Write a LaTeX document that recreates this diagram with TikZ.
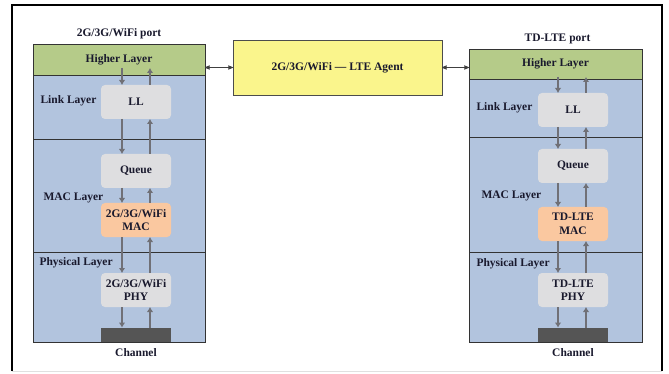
\documentclass[tikz,border=0pt]{standalone}
\usepackage{fontspec}
\setmainfont{Liberation Serif}
\usetikzlibrary{arrows,arrows.meta,positioning}
\newcommand{\labfont}{\fontsize{11.5}{13.5}\selectfont}
\definecolor{hlgreen}{RGB}{181,203,137}
\definecolor{laybl}{RGB}{178,196,222}
\definecolor{boxgr}{RGB}{222,222,224}
\definecolor{macor}{RGB}{250,200,160}
\definecolor{agyel}{RGB}{250,245,140}
\definecolor{chan}{RGB}{85,85,85}
\definecolor{arrgr}{RGB}{112,112,118}
\definecolor{txt}{RGB}{25,25,45}
\tikzstyle{band}=[rectangle,draw=black!80,line width=0.8pt,fill=laybl,
minimum width=172pt,inner sep=0pt,outer sep=0pt]
\tikzstyle{higher}=[band,fill=hlgreen]
\tikzstyle{unit}=[rectangle,rounded corners=4pt,fill=boxgr,minimum width=70pt,
minimum height=34pt,align=center,inner sep=1pt,outer sep=0pt]
\tikzstyle{mac}=[unit,fill=macor]
\tikzstyle{chbar}=[rectangle,fill=chan,minimum width=70pt,minimum height=14pt,inner sep=0pt]
\tikzstyle{agent}=[rectangle,draw=black!70,line width=0.8pt,fill=agyel,
minimum width=209pt,minimum height=55pt,outer sep=0pt]
\tikzstyle{flow}=[draw=arrgr,line width=2.6pt,-{Latex[length=5pt,width=6.5pt]}]
\tikzstyle{link}=[draw=black!75,line width=0.8pt,<->,>=stealth']

\begin{document}
\begin{tikzpicture}[x=1pt,y=-1pt,font=\bfseries\labfont,text=txt]
            \useasboundingbox (0,0) rectangle (669,374);
            \draw[line width=2pt] (12,371) -- (12,5) -- (662,5) -- (662,371);
            \draw[black!12] (12,371) -- (662,371);

            % 2G/3G/WiFi PART

            \node[higher,minimum height=31pt] (hl1) at (119,59.5) {Higher Layer};
            \node[band,below=0pt of hl1,minimum height=64pt] (ly1) {};
            \node[band,below=0pt of ly1,minimum height=113pt] (mc1) {};
            \node[band,below=0pt of mc1,minimum height=90pt] (ph1) {};
            \node[above=2pt of hl1] (pt1) {2G/3G/WiFi port};

            \node[anchor=west] (lk1) at (37,101) {Link Layer};
            \node[anchor=west] (ml1) at (40,198) {MAC Layer};
            \node[anchor=west] (pl1) at (36,263) {Physical Layer};

            \node[unit] (ll1) at (136,102) {LL};
            \node[unit,below=35pt of ll1] (q1) {Queue};
            \node[mac,below=15pt of q1] (m1) {2G/3G/WiFi\\MAC};
            \node[unit,below=36pt of m1] (p1) {2G/3G/WiFi\\PHY};
            \node[chbar,anchor=south] (c1) at (ph1.south -| ll1) {};
            \node[below=3pt of c1] (ct1) {Channel};

            \draw[flow] ([xshift=-14pt,yshift=17pt]ll1.north) -- ([xshift=-14pt]ll1.north);
            \draw[flow] ([xshift=14pt]ll1.north) -- ([xshift=14pt,yshift=17pt]ll1.north);
            \draw[flow] ([xshift=-14pt]ll1.south) -- ([xshift=-14pt]q1.north);
            \draw[flow] ([xshift=14pt]q1.north) -- ([xshift=14pt]ll1.south);
            \draw[flow] ([xshift=-14pt]q1.south) -- ([xshift=-14pt]m1.north);
            \draw[flow] ([xshift=14pt]m1.north) -- ([xshift=14pt]q1.south);
            \draw[flow] ([xshift=-14pt]m1.south) -- ([xshift=-14pt]p1.north);
            \draw[flow] ([xshift=14pt]p1.north) -- ([xshift=14pt]m1.south);
            \draw[flow] ([xshift=-14pt]p1.south) -- ([xshift=-14pt]c1.north);
            \draw[flow] ([xshift=14pt]c1.north) -- ([xshift=14pt]p1.south);

            % TD-LTE PART

            \node[higher,minimum height=30pt,minimum width=173pt] (hl2) at (555.5,64) {Higher Layer};
            \node[band,below=0pt of hl2,minimum height=58pt,minimum width=173pt] (ly2) {};
            \node[band,below=0pt of ly2,minimum height=115pt,minimum width=173pt] (mc2) {};
            \node[band,below=0pt of mc2,minimum height=90pt,minimum width=173pt] (ph2) {};
            \node[above=2pt of hl2,xshift=2pt] (pt2) {TD-LTE port};

            \node[anchor=west] (lk2) at (473,108) {Link Layer};
            \node[anchor=west] (ml2) at (478,196) {MAC Layer};
            \node[anchor=west] (pl2) at (473,264) {Physical Layer};

            \node[unit] (ll2) at (573,110) {LL};
            \node[unit,below=22pt of ll2] (q2) {Queue};
            \node[mac,below=24pt of q2] (m2) {TD-LTE\\MAC};
            \node[unit,below=32pt of m2] (p2) {TD-LTE\\PHY};
            \node[chbar,anchor=south] (c2) at (ph2.south -| ll2) {};
            \node[below=3pt of c2] (ct2) {Channel};

            \draw[flow] ([xshift=-15pt,yshift=16pt]ll2.north) -- ([xshift=-15pt]ll2.north);
            \draw[flow] ([xshift=13pt]ll2.north) -- ([xshift=13pt,yshift=16pt]ll2.north);
            \draw[flow] ([xshift=-15pt]ll2.south) -- ([xshift=-15pt]q2.north);
            \draw[flow] ([xshift=13pt]q2.north) -- ([xshift=13pt]ll2.south);
            \draw[flow] ([xshift=-15pt]q2.south) -- ([xshift=-15pt]m2.north);
            \draw[flow] ([xshift=13pt]m2.north) -- ([xshift=13pt]q2.south);
            \draw[flow] ([xshift=-15pt]m2.south) -- ([xshift=-15pt]p2.north);
            \draw[flow] ([xshift=13pt]p2.north) -- ([xshift=13pt]m2.south);
            \draw[flow] ([xshift=-15pt]p2.south) -- ([xshift=-15pt]c2.north);
            \draw[flow] ([xshift=13pt]c2.north) -- ([xshift=13pt]p2.south);

            % Agent between the two ports

            \node[agent] (ag) at (337.5,67.5) {2G/3G/WiFi — LTE Agent};
            \draw[link] (ag.west) -- (ag.west -| hl1.east);
            \draw[link] (ag.east) -- (ag.east -| hl2.west);

        \end{tikzpicture}
\end{document}
